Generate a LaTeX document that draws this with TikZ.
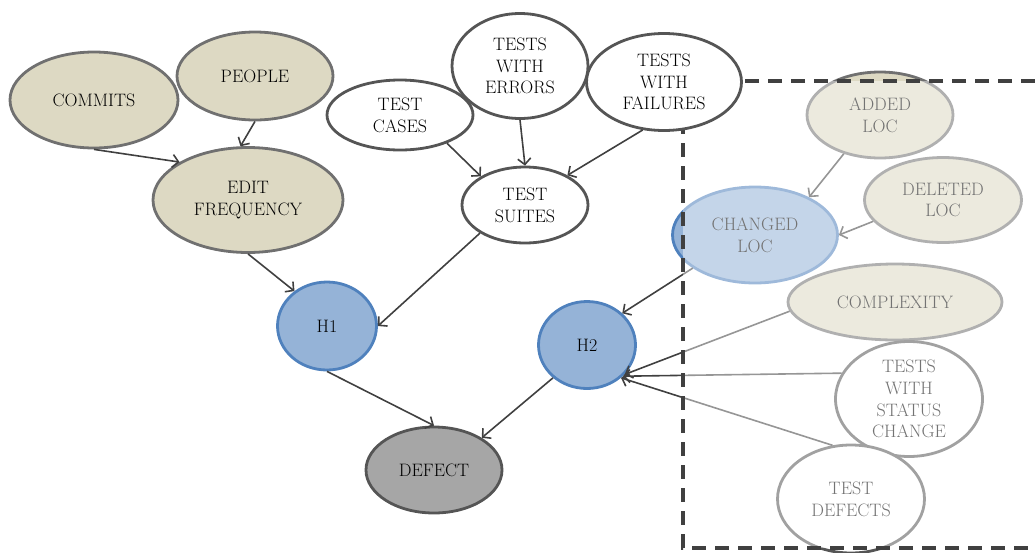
\documentclass[tikz,border=0pt]{standalone}
\usepackage{fontspec}
\setmainfont{Latin Modern Roman}
\usetikzlibrary{arrows.meta,shapes.geometric}
\definecolor{tanfill}{HTML}{DDD9C3}
\definecolor{tanline}{HTML}{707070}
\definecolor{darkline}{HTML}{555555}
\definecolor{bluefill}{HTML}{95B3D7}
\definecolor{blueline}{HTML}{4F81BD}
\definecolor{greyfill}{HTML}{A6A6A6}
\definecolor{edgecol}{HTML}{404040}
\begin{document}
\begin{tikzpicture}[x=1pt,y=-1pt,
  every node/.style={font=\fontsize{18}{21.7}\selectfont, align=center, text=black},
  bub/.style={ellipse, draw, line width=2.8pt, inner sep=0pt},
  sz/.style 2 args={minimum width=#1pt, minimum height=#2pt},
  tanbub/.style={bub, fill=tanfill, draw=tanline},
  whitebub/.style={bub, fill=white, draw=darkline},
  hypbub/.style={bub, fill=bluefill, draw=blueline},
  sinkbub/.style={bub, fill=greyfill, draw=darkline},
  link/.style={draw=edgecol, line width=1.6pt, -{Straight Barb[length=6pt,width=13pt,line width=1.6pt]}},
]
\useasboundingbox (0,0) rectangle (1035,552);

% development activity
\node[tanbub, sz={168}{96}]  (commits) at (94,100)  {COMMITS};
\node[tanbub, sz={156}{88}]  (people)  at (255,76)  {PEOPLE};
\node[tanbub, sz={190}{105}] (editf)   at (248,200) {EDIT\\FREQUENCY};

% test results
\node[whitebub, sz={146}{70}]  (tcases) at (400,115) {TEST\\CASES};
\node[whitebub, sz={136}{105}] (twerr)  at (520,66)  {TESTS\\WITH\\ERRORS};
\node[whitebub, sz={126}{76}]  (suites) at (525,205) {TEST\\SUITES};

% hypotheses and outcome
\node[hypbub, sz={99}{88}]   (h1)     at (327,326) {H1};
\node[hypbub, sz={97}{87}]   (h2)     at (587,345) {H2};
\node[sinkbub, sz={136}{86}] (defect) at (434,470) {DEFECT};

% code change and test change metrics
\node[tanbub, sz={146}{86}]    (added)   at (880,115) {ADDED\\LOC};
\node[tanbub, sz={157}{85}]    (deleted) at (943,200) {DELETED\\LOC};
\node[hypbub, sz={165}{96}]    (changed) at (755,235) {CHANGED\\LOC};
\node[tanbub, sz={214}{76}]    (cplx)    at (895,302) {COMPLEXITY};
\node[whitebub, sz={147}{115}] (status)  at (909,399) {TESTS\\WITH\\STATUS\\CHANGE};
\node[whitebub, sz={147}{108}] (tdef)    at (851,499) {TEST\\DEFECTS};

% dependencies
\draw[link] (commits.south) -- (editf.151);
\draw[link] (people.south) -- (editf.98);
\draw[link] (tcases.-31) -- (suites.147);
\draw[link] (twerr.south) -- (suites.north);
\draw[link] (editf.south) -- (h1.133);
\draw[link] (suites.212) -- (h1.east);
\draw[link] (h1.south) -- (defect.north);
\draw[link] (h2.224) -- (defect.34);
\draw[link] (changed.208) -- (h2.42);
\draw[link] (added.227) -- (changed.35);
\draw[link] (deleted.197) -- (changed.east);
\draw[link] (cplx.185) -- (h2.-38);
\draw[link] (status.159) -- (h2.-41);
\draw[link] (tdef.109) -- (h2.-44);

% faded region with its dashed frame
\fill[white, opacity=0.45] (683,81) rectangle (1035,548);
\draw[line width=3.5pt, draw=black!75, dash pattern=on 14pt off 9pt]
  (1035,81) -- (683,81) -- (683,548) -- (1035,548);

% this one sits over the frame corner
\node[whitebub, sz={155}{97}] (twfail) at (664,82) {TESTS\\WITH\\FAILURES};
\draw[link] (twfail.246) -- (suites.35);
\end{tikzpicture}
\end{document}
